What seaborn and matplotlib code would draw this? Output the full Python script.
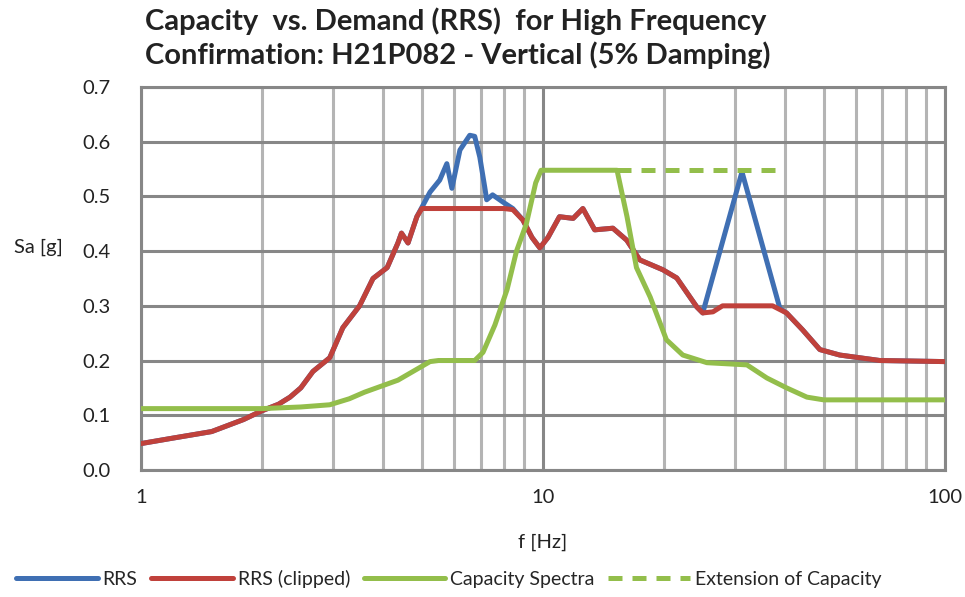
import numpy as np
import pandas as pd
import matplotlib
matplotlib.use("Agg")
import matplotlib.pyplot as plt
import seaborn as sns
from matplotlib.ticker import FixedLocator, NullFormatter, FixedFormatter

# ---- data ----
f_rrs = [1.0, 1.2, 1.5, 1.8, 2.0, 2.2, 2.35, 2.5, 2.68, 2.95, 3.18, 3.5, 3.78, 4.1, 4.36, 4.45,
         4.62, 4.86, 5.24, 5.54, 5.77, 5.94, 6.22, 6.58, 6.77, 6.97, 7.17, 7.25, 7.5, 7.95,
         8.42, 8.92, 9.4, 9.83, 10.3, 11.0, 11.9, 12.58, 13.46, 14.94, 16.18, 17.43, 19.89,
         21.54, 24.16, 25.0, 31.3, 38.9, 40.4, 44.3, 48.9, 54.8, 68.9, 100.0]
rrs = [0.048, 0.058, 0.070, 0.092, 0.108, 0.120, 0.133, 0.150, 0.180, 0.205, 0.260, 0.300,
       0.350, 0.370, 0.415, 0.433, 0.415, 0.463, 0.508, 0.530, 0.560, 0.515, 0.585, 0.612,
       0.610, 0.572, 0.517, 0.494, 0.503, 0.490, 0.478, 0.457, 0.425, 0.406, 0.425, 0.463,
       0.460, 0.478, 0.439, 0.442, 0.420, 0.384, 0.366, 0.351, 0.298, 0.287, 0.545, 0.295,
       0.287, 0.256, 0.220, 0.210, 0.200, 0.198]

f_clip = [1.0, 1.2, 1.5, 1.8, 2.0, 2.2, 2.35, 2.5, 2.68, 2.95, 3.18, 3.5, 3.78, 4.1, 4.36, 4.45,
          4.62, 4.86, 5.0, 6.0, 7.0, 8.0, 8.42, 8.92, 9.4, 9.83, 10.3, 11.0, 11.9, 12.58, 13.46,
          14.94, 16.18, 17.43, 19.89, 21.54, 24.16, 25.0, 26.5, 28.0, 37.3, 40.4, 44.3, 48.9,
          54.8, 68.9, 100.0]
rrs_clip = [0.048, 0.058, 0.070, 0.092, 0.108, 0.120, 0.133, 0.150, 0.180, 0.205, 0.260, 0.300,
            0.350, 0.370, 0.415, 0.433, 0.415, 0.463, 0.478, 0.478, 0.478, 0.478, 0.476, 0.457,
            0.425, 0.406, 0.425, 0.463, 0.460, 0.478, 0.439, 0.442, 0.420, 0.384, 0.366, 0.351,
            0.298, 0.287, 0.289, 0.300, 0.300, 0.287, 0.256, 0.220, 0.210, 0.200, 0.198]

f_cap = [1.0, 2.0, 2.5, 2.95, 3.3, 3.6, 4.36, 5.24, 5.5, 6.77, 7.1, 7.6, 8.15, 8.6, 9.1, 9.6,
         9.9, 15.3, 16.2, 17.1, 18.5, 20.3, 22.3, 25.6, 32.2, 36.1, 40.4, 45.4, 50.0, 100.0]
cap = [0.112, 0.112, 0.115, 0.119, 0.130, 0.142, 0.164, 0.198, 0.200, 0.200, 0.215, 0.265,
       0.330, 0.400, 0.450, 0.525, 0.548, 0.548, 0.463, 0.370, 0.316, 0.238, 0.210, 0.196,
       0.192, 0.168, 0.150, 0.133, 0.128, 0.128]

f_ext = [15.3, 40.0]
ext = [0.548, 0.548]

labels = ["RRS", "RRS (clipped)", "Capacity Spectra", "Extension of Capacity"]
colors = ["#3F6FB3", "#C0413B", "#93BE4B", "#93BE4B"]

# ---- figure ----
sns.set_theme(style="white")
plt.rcParams["font.family"] = ["Lato", "DejaVu Sans"]

fig = plt.figure(figsize=(9.65, 5.97), dpi=100)
ax = fig.add_axes([0.146, 0.213, 0.833, 0.641])

lw = 3.6
sns.lineplot(x=f_rrs, y=rrs, ax=ax, color=colors[0], lw=lw, label=labels[0], zorder=3)
sns.lineplot(x=f_clip, y=rrs_clip, ax=ax, color=colors[1], lw=lw, label=labels[1], zorder=4)
sns.lineplot(x=f_cap, y=cap, ax=ax, color=colors[2], lw=lw, label=labels[2], zorder=5)
sns.lineplot(x=f_ext, y=ext, ax=ax, color=colors[3], lw=lw, label=labels[3], zorder=5,
             linestyle=(0, (2.8, 2.0)))

ax.set_xscale("log")
ax.set_xlim(1, 100)
ax.set_ylim(0, 0.7)

ax.xaxis.set_major_locator(FixedLocator([1, 10, 100]))
ax.xaxis.set_major_formatter(FixedFormatter(["1", "10", "100"]))
ax.xaxis.set_minor_locator(FixedLocator([m * d for d in (1, 10) for m in range(2, 10)]))
ax.xaxis.set_minor_formatter(NullFormatter())
yt = [0.0, 0.1, 0.2, 0.3, 0.4, 0.5, 0.6, 0.7]
ax.set_yticks(yt)
ax.set_yticklabels([f"{v:.1f}" for v in yt])

ax.grid(which="major", axis="both", color="#878787", lw=2.2, zorder=0)
ax.grid(which="minor", axis="x", color="#b4b4b4", lw=2.2, zorder=0)
ax.set_axisbelow(True)
for s in ax.spines.values():
    s.set_color("#878787")
    s.set_linewidth(2.2)

ax.tick_params(axis="both", which="both", length=0, labelsize=14.5, colors="#222222")
ax.tick_params(axis="x", pad=14)
ax.tick_params(axis="y", pad=22)

ax.set_xlabel("f [Hz]", fontsize=14.5, labelpad=20, color="#222222")
ax.set_ylabel("Sa [g]", fontsize=14.5, rotation=0, color="#222222")
ax.yaxis.set_label_coords(-0.128, 0.56)

ax.get_legend().remove()
handles, labs = ax.get_legend_handles_labels()
fig.legend(handles, labs, loc="lower center", bbox_to_anchor=(0.465, -0.014), ncol=4,
           frameon=False, fontsize=14, handlelength=4.2, handletextpad=0.25,
           columnspacing=0.7)

fig.text(0.150, 0.988, "Capacity  vs. Demand (RRS)  for High Frequency\nConfirmation: H21P082 - Vertical (5% Damping)",
         ha="left", va="top", fontsize=21, fontweight="bold", color="#222222", linespacing=1.3)

fig.savefig("out.png", dpi=100)
